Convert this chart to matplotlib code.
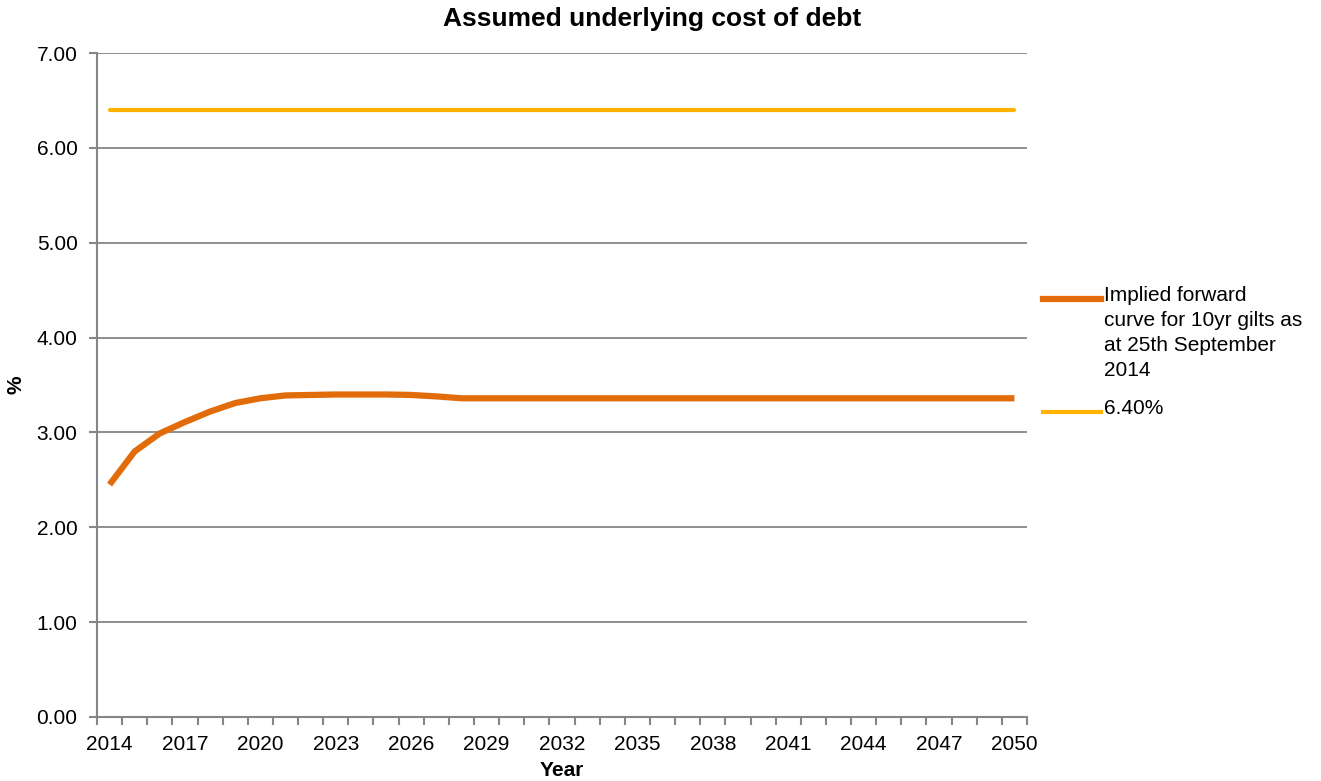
import matplotlib.pyplot as plt
from matplotlib.lines import Line2D

plt.rcParams["font.family"] = ["Liberation Sans", "DejaVu Sans"]

# Data
years = list(range(2014, 2051))
forward_curve = [2.45, 2.80, 2.99, 3.11, 3.22, 3.31, 3.36, 3.39, 3.395, 3.40,
                 3.40, 3.40, 3.395, 3.38, 3.36] + [3.36] * 22
flat_rate = [6.40] * len(years)
tick_years = list(range(2014, 2051, 3))
y_ticks = [0, 1, 2, 3, 4, 5, 6, 7]

label_curve = "Implied forward\ncurve for 10yr gilts as\nat 25th September\n2014"
label_flat = "6.40%"

W, H = 1321, 781
fig = plt.figure(figsize=(W / 100, H / 100), dpi=100)
ax = fig.add_axes([97 / W, 1 - 717 / H, (1027 - 97) / W, (717 - 53) / H])

orange = "#E36C0A"
yellow = "#FFB300"
grid_c = "#868686"

ax.plot(years, forward_curve, color=orange, lw=4.5, solid_capstyle="butt", zorder=3)
ax.plot(years, flat_rate, color=yellow, lw=3, solid_capstyle="round", zorder=3)

ax.set_xlim(years[0] - 0.5, years[-1] + 0.5)
ax.set_ylim(0, 7)
ax.set_yticks(y_ticks)
ax.set_yticklabels([f"{v:.2f}" for v in y_ticks])
ax.set_xticks(tick_years)
ax.set_xticks([y - 0.5 for y in years] + [years[-1] + 0.5], minor=True)
ax.tick_params(axis="x", which="major", length=0, pad=13, labelsize=15)
ax.tick_params(axis="x", which="minor", length=6, width=1.5, color=grid_c, direction="out")
ax.tick_params(axis="y", length=6, width=1.5, color=grid_c, pad=8, labelsize=15)

ax.grid(axis="y", color=grid_c, lw=1.3)
ax.set_axisbelow(True)
for s in ["top", "right"]:
    ax.spines[s].set_visible(False)
for s in ["left", "bottom"]:
    ax.spines[s].set_color(grid_c)
    ax.spines[s].set_linewidth(1.5)

fig.text(652 / W, 1 - 19 / H, "Assumed underlying cost of debt", fontsize=19,
         fontweight="bold", ha="center", va="center")
ax.set_xlabel("Year", fontsize=15, fontweight="bold", labelpad=5)
ax.set_ylabel("%", fontsize=15, fontweight="bold", labelpad=8)

# legend drawn Excel-style: handle level with first text line
def px(x, y):
    return x / W, 1 - y / H

for (y0, col, lw, txt) in [(299, orange, 4.5, label_curve), (412, yellow, 3, label_flat)]:
    x0, yy = px(1043, y0)
    x1, _ = px(1101, y0)
    fig.add_artist(Line2D([x0, x1], [yy, yy], color=col, lw=lw, transform=fig.transFigure))
    tx, ty = px(1104, y0 - 13)
    fig.text(tx, ty, txt, fontsize=15, va="top", ha="left", linespacing=1.4)

fig.savefig("out.png", dpi=100)
